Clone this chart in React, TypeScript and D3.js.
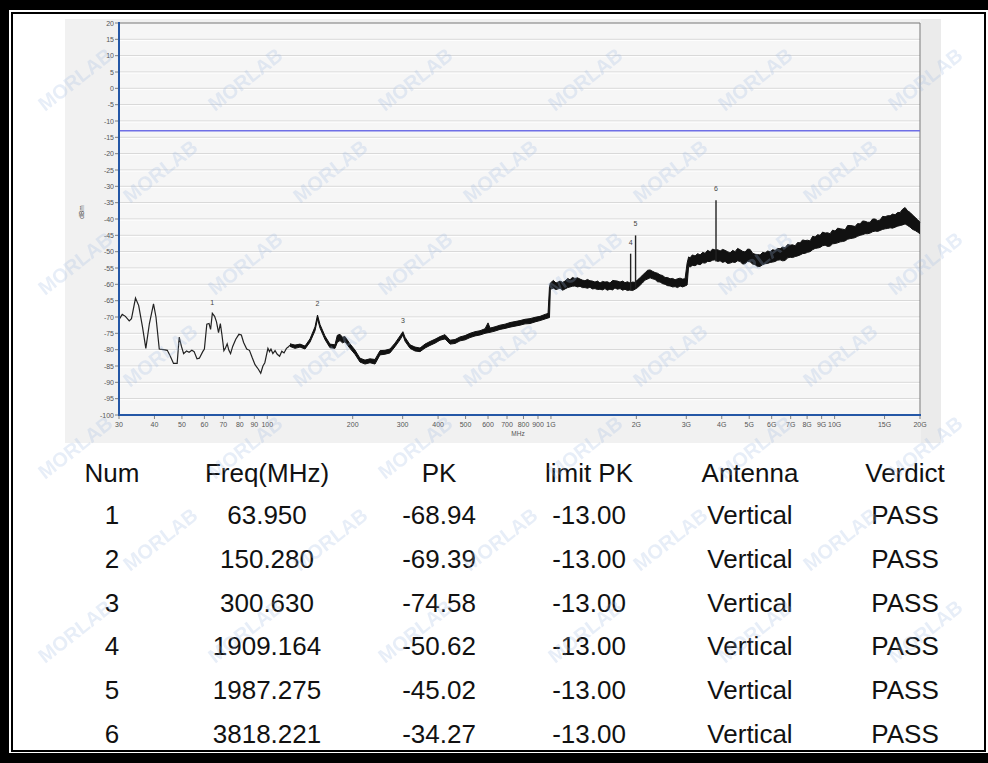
import React from 'react';
import * as d3 from 'd3';

const W = 988;
const H = 763;

// ---------- DATA ----------
const yTicks = [20, 15, 10, 5, 0, -5, -10, -15, -20, -25, -30, -35, -40, -45, -50, -55, -60, -65, -70, -75, -80, -85, -90, -95, -100];
const xTickValues = [30, 40, 50, 60, 70, 80, 90, 100, 200, 300, 400, 500, 600, 700, 800, 900, 1000, 2000, 3000, 4000, 5000, 6000, 7000, 8000, 9000, 10000, 15000, 20000];
const xTickLabels = ['30', '40', '50', '60', '70', '80', '90', '100', '200', '300', '400', '500', '600', '700', '800', '900', '1G', '2G', '3G', '4G', '5G', '6G', '7G', '8G', '9G', '10G', '15G', '20G'];

const limitLine = -13;

// low-frequency trace: [MHz, dBm]
const lowTrace: [number, number][] = [
  [30, -70.8], [30.8, -69.2], [31.6, -69.8], [32.6, -71.2], [33.2, -70.5], [34.3, -64.2], [35.2, -66.5], [36.3, -73],
  [37.3, -79.6], [38.4, -72], [39.7, -66.0], [40.5, -70], [41.6, -79.8], [43, -80], [44.4, -80.2], [45.5, -82],
  [46.7, -84.2], [48.1, -84.2], [48.9, -76.2], [49.8, -79], [50.7, -81.2], [51.9, -80.4], [53, -80.8], [54.2, -80.2],
  [55.2, -80.6], [56.5, -82.8], [57.6, -82.6], [59.2, -80.6], [60, -79.8], [61.2, -72.2], [62.3, -72.0], [63.1, -73.8],
  [64, -68.9], [65.2, -69.8], [66.2, -71.5], [67.3, -74.8], [68.3, -72.0], [69.2, -75.5], [70.3, -80.3], [71.2, -79.5],
  [72.2, -78.2], [73.2, -80.2], [74.2, -81.2], [75.5, -79], [77.4, -76.8], [79.4, -75.3], [81, -75.5], [82.5, -77.8],
  [84.6, -79.8], [86.5, -80.2], [88.5, -82.5], [90.5, -84.6], [93, -86], [94.8, -87.2], [96.5, -85], [98, -84],
  [99, -82.2], [100.5, -79.6], [101.8, -80.6], [103, -79.8], [104.6, -81.2], [106.5, -80.3], [108.4, -81.4], [110.5, -82.0],
  [112.5, -80.5], [114.5, -81.0], [116.8, -79.6], [118.5, -79.2], [120.2, -78.6],
];

// noisy trace envelope: [MHz, low dBm, high dBm]
const bandTrace: [number, number, number][] = [
  [120.2, -79.0, -78.2], [125.2, -79.6, -78.6], [130.4, -79.2, -78.3], [135.8, -79.8, -78.9], [141.4, -77.7, -76.7],
  [147.3, -74.2, -73.0], [150.3, -70.6, -69.4], [153.4, -73.4, -72.3], [159.7, -76.9, -75.8], [166.3, -79.4, -78.3],
  [173.2, -79.6, -78.5], [176.5, -77.8, -75.6], [180.4, -77.2, -75.3], [184, -77.9, -76.2], [187.9, -77.6, -76.0],
  [195.6, -79.6, -78.2], [203.7, -81.4, -80.1], [212.2, -83.8, -82.6], [221.0, -84.4, -83.2], [230.1, -84.0, -82.8],
  [239.7, -84.4, -83.0], [249.6, -81.6, -80.3], [259.9, -81.4, -80.2], [270.7, -81.0, -79.8], [281.9, -79.1, -78.0],
  [293.6, -77.0, -75.8], [300.6, -75.5, -74.5], [305.8, -77.4, -76.2], [318.5, -79.6, -78.5], [331.6, -80.4, -79.2],
  [345.4, -80.6, -79.5], [359.7, -79.5, -78.3], [374.6, -78.7, -77.5], [390.1, -78.0, -76.8], [406.3, -77.1, -76.0],
  [423.1, -76.7, -75.4], [440.7, -78.3, -77.1], [458.9, -78.1, -76.9], [478.0, -77.3, -76.1], [497.7, -77.0, -75.7],
  [518.3, -76.3, -75.0], [539.8, -75.8, -74.5], [562.2, -75.5, -74.2], [585.5, -75.0, -73.6], [600.0, -74.8, -71.8],
  [609.8, -74.7, -73.4], [635.0, -74.3, -73.0], [661.3, -73.8, -72.5], [688.7, -73.5, -72.2], [717.3, -73.1, -71.7],
  [747.0, -72.8, -71.4], [778.0, -72.5, -71.1], [810.2, -72.1, -70.7], [843.7, -72.0, -70.5], [878.7, -71.5, -70.1],
  [915.1, -71.1, -69.8], [953.0, -70.6, -69.2], [976.5, -70.3, -68.9], [988, -70.2, -60.8], [995, -61.5, -59.6],
  [1020, -61.2, -58.8], [1042, -61.6, -59.6], [1076, -61.2, -59.0], [1100, -61.8, -59.4], [1121, -61.4, -59.0],
  [1145, -61.0, -58.2], [1167, -60.8, -58.6], [1190, -60.6, -57.9], [1215, -60.5, -58.2], [1240, -60.8, -58.0],
  [1266, -60.6, -58.4], [1290, -61.0, -58.7], [1318, -61.0, -58.9], [1345, -61.2, -58.5], [1372, -60.9, -58.9],
  [1400, -61.4, -59.0], [1429, -61.3, -59.3], [1460, -61.6, -59.0], [1489, -61.5, -59.6], [1520, -61.7, -59.1],
  [1550, -61.3, -59.3], [1580, -61.8, -59.2], [1614, -61.5, -59.6], [1650, -61.7, -58.8], [1681, -61.1, -58.9],
  [1715, -61.5, -59.0], [1752, -61.3, -59.3], [1790, -61.8, -59.0], [1824, -61.5, -59.5], [1860, -61.9, -59.2],
  [1900, -61.7, -59.6], [1940, -61.9, -59.3], [1978, -61.5, -59.4], [2020, -61.0, -58.6], [2061, -60.3, -58.0],
  [2100, -59.6, -57.2], [2146, -58.7, -56.5], [2190, -58.4, -55.7], [2236, -58.0, -55.6], [2280, -58.3, -56.0],
  [2328, -58.5, -56.4], [2375, -59.2, -56.6], [2425, -59.3, -57.1], [2475, -59.8, -57.3], [2525, -60.0, -57.9],
  [2575, -60.4, -57.9], [2630, -60.5, -58.3], [2685, -60.8, -58.2], [2739, -60.7, -58.6], [2795, -61.0, -58.3],
  [2852, -60.5, -58.1], [2910, -60.8, -58.4], [2970, -60.5, -58.3], [3020, -60.2, -53.5], [3057, -54.5, -51.6],
  [3094, -54.7, -51.9], [3150, -54.2, -51.0], [3222, -54.3, -51.3], [3290, -53.8, -50.6], [3356, -54.0, -51.0],
  [3425, -53.4, -50.2], [3495, -53.5, -50.5], [3565, -53.0, -49.6], [3639, -53.0, -50.0], [3715, -52.6, -49.2],
  [3790, -52.5, -49.5], [3870, -53.0, -49.4], [3947, -52.8, -49.8], [4030, -53.3, -49.3], [4110, -53.0, -49.6],
  [4195, -53.6, -50.0], [4281, -53.5, -50.4], [4370, -53.2, -49.6], [4458, -53.3, -50.0], [4550, -52.8, -49.0],
  [4644, -53.0, -49.4], [4740, -53.8, -49.9], [4836, -53.7, -50.1], [4935, -53.0, -49.2], [5036, -53.1, -49.3],
  [5140, -53.8, -50.5], [5245, -54.0, -50.8], [5350, -54.6, -50.9], [5462, -54.5, -51.0], [5575, -54.0, -50.2],
  [5688, -53.7, -50.4], [5805, -53.6, -49.8], [5924, -53.3, -50.0], [6045, -53.2, -49.4], [6169, -53.0, -49.6],
  [6295, -52.6, -49.0], [6425, -52.5, -49.1], [6555, -52.8, -48.6], [6691, -52.7, -48.8], [6830, -51.9, -47.8],
  [6968, -51.7, -48.0], [7110, -51.8, -47.9], [7257, -51.5, -48.2], [7405, -51.3, -47.2], [7557, -51.0, -47.3],
  [7710, -50.6, -46.4], [7870, -50.5, -46.6], [8030, -50.2, -46.5], [8196, -50.0, -46.7], [8365, -49.4, -45.3],
  [8535, -49.0, -45.5], [8710, -48.9, -44.8], [8889, -48.7, -45.0], [9070, -48.2, -44.0], [9257, -48.0, -44.3],
  [9445, -48.4, -44.2], [9640, -48.3, -44.5], [9840, -47.6, -43.4], [10040, -47.5, -43.7], [10250, -47.3, -42.8],
  [10457, -47.0, -43.0], [10670, -46.9, -43.1], [10890, -46.7, -43.3], [11110, -46.2, -42.0], [11340, -46.0, -42.0],
  [11570, -45.9, -42.1], [11810, -45.7, -42.3], [12050, -45.3, -41.4], [12300, -45.0, -41.5], [12550, -44.8, -40.6],
  [12810, -44.5, -40.7], [13070, -44.5, -41.0], [13340, -44.3, -41.0], [13610, -43.9, -40.0], [13890, -43.7, -40.0],
  [14180, -43.8, -40.5], [14469, -43.5, -40.3], [14760, -43.2, -39.2], [15070, -43.0, -39.3], [15370, -42.9, -39.0],
  [15690, -42.7, -39.0], [16010, -42.8, -38.5], [16340, -42.5, -38.7], [16680, -42.2, -38.0], [17020, -42.0, -38.0],
  [17370, -41.8, -37.0], [17720, -41.5, -36.5], [18090, -42.0, -37.5], [18460, -42.5, -38.0], [18840, -43.2, -38.8],
  [19220, -43.5, -39.5], [19610, -44.0, -40.2], [20000, -44.5, -41.0],
];

const tableHeaders = ['Num', 'Freq(MHz)', 'PK', 'limit PK', 'Antenna', 'Verdict'];
const markerNum = ['1', '2', '3', '4', '5', '6'];
const markerFreq = [63.95, 150.28, 300.63, 1909.164, 1987.275, 3818.221];
const markerFreqText = ['63.950', '150.280', '300.630', '1909.164', '1987.275', '3818.221'];
const markerPK = [-68.94, -69.39, -74.58, -50.62, -45.02, -34.27];
const markerPKText = ['-68.94', '-69.39', '-74.58', '-50.62', '-45.02', '-34.27'];
const markerLimitText = ['-13.00', '-13.00', '-13.00', '-13.00', '-13.00', '-13.00'];
const markerAntenna = ['Vertical', 'Vertical', 'Vertical', 'Vertical', 'Vertical', 'Vertical'];
const markerVerdict = ['PASS', 'PASS', 'PASS', 'PASS', 'PASS', 'PASS'];
const spikeMarkers = [3, 4, 5]; // indices of markers drawn as narrow spikes

// ---------- LAYOUT ----------
const plot = { left: 119, right: 920, top: 23, bottom: 415 };
const colX = [112, 267, 439, 589, 750, 905];
const headerY = 472;
const rowY0 = 514;
const rowStep = 43.8;
const tableFont = '"Liberation Sans", Arial, Helvetica, sans-serif';

export default function App() {
  const x = d3.scaleLog().domain([30, 20000]).range([plot.left, plot.right]);
  const y = d3.scaleLinear().domain([-100, 20]).range([plot.bottom, plot.top]);

  const lowLine = d3.line<[number, number]>().x(d => x(d[0])).y(d => y(d[1]))(lowTrace) || '';
  const bandArea = d3.area<[number, number, number]>()
    .x(d => x(d[0])).y0(d => y(d[1])).y1(d => y(d[2]))(bandTrace) || '';
  const bandLo = d3.line<[number, number, number]>().x(d => x(d[0])).y(d => y(d[1]))(bandTrace) || '';
  const bandHi = d3.line<[number, number, number]>().x(d => x(d[0])).y(d => y(d[2]))(bandTrace) || '';
  const bis = d3.bisector((d: [number, number, number]) => d[0]).left;

  const gridVals = yTicks.filter(v => v > -100 && v < 20);

  // decorative watermark tiling, only fully visible copies
  const watermarks: { x: number; y: number }[] = [];
  for (let r = 0; r < 10; r++) {
    for (let c = 0; c < 8; c++) {
      const wx = -40 + c * 170 + (r % 2) * 85;
      const wy = 20 + r * 92;
      if (wx >= 16 && wx + 70 <= 982 && wy - 52 >= 16 && wy + 4 <= 748) watermarks.push({ x: wx, y: wy });
    }
  }

  return (
    <svg width={W} height={H} style={{ position: 'absolute', left: 0, top: 0, display: 'block' }}
      xmlns="http://www.w3.org/2000/svg">
      {/* frame */}
      <rect x={0} y={0} width={W} height={H} fill="#000" />
      <rect x={9} y={10} width={W - 9} height={743} fill="#fff" />
      <rect x={12} y={13} width={973} height={738} fill="none" stroke="#000" strokeWidth={2} />

      {/* chart panel */}
      <rect x={65} y={19} width={876} height={424} fill="#f1f1f1" />
      <rect x={921} y={19} width={20} height={424} fill="#ebebeb" />
      <rect x={plot.left} y={plot.top} width={plot.right - plot.left} height={plot.bottom - plot.top} fill="#f6f6f6" />

      {/* grid */}
      {gridVals.map(v => (
        <g key={v}>
          <line x1={plot.left} x2={plot.right} y1={y(v)} y2={y(v)} stroke="#d4d4d4" strokeWidth={1} />
          <line x1={plot.left} x2={plot.right} y1={y(v) + 1} y2={y(v) + 1} stroke="#ffffff" strokeWidth={1} />
        </g>
      ))}

      {/* frame top/right */}
      <line x1={plot.left} x2={plot.right} y1={plot.top} y2={plot.top} stroke="#777" strokeWidth={1} />
      <line x1={plot.right} x2={plot.right} y1={plot.top} y2={plot.bottom} stroke="#777" strokeWidth={1} />

      {/* limit line */}
      <line x1={plot.left} x2={plot.right} y1={y(limitLine)} y2={y(limitLine)} stroke="#6f6fe6" strokeWidth={1.6} />

      {/* trace */}
      <path d={lowLine} fill="none" stroke="#222" strokeWidth={1.2} />
      <path d={bandArea} fill="#111" stroke="none" />
      <path d={bandLo} fill="none" stroke="#111" strokeWidth={1} />
      <path d={bandHi} fill="none" stroke="#111" strokeWidth={1} />
      {spikeMarkers.map(i => {
        const idx = Math.min(bis(bandTrace, markerFreq[i]), bandTrace.length - 1);
        const base = bandTrace[idx][1];
        return (
          <line key={i} x1={x(markerFreq[i])} x2={x(markerFreq[i])} y1={y(base)} y2={y(markerPK[i])}
            stroke="#222" strokeWidth={1.4} />
        );
      })}

      {/* marker labels */}
      {markerNum.map((m, i) => (
        <text key={m} x={x(markerFreq[i])} y={y(markerPK[i]) - 9} fontSize={7} fill="#444"
          textAnchor="middle" fontFamily={tableFont}>{m}</text>
      ))}

      {/* axes */}
      <line x1={plot.left} x2={plot.left} y1={plot.top - 1} y2={plot.bottom + 1} stroke="#2457a6" strokeWidth={2} />
      <line x1={plot.left - 1} x2={plot.right + 1} y1={plot.bottom} y2={plot.bottom} stroke="#2457a6" strokeWidth={2} />
      {yTicks.map(v => (
        <g key={v}>
          <line x1={plot.left - 4} x2={plot.left - 1} y1={y(v)} y2={y(v)} stroke="#666" strokeWidth={0.8} />
          <text x={plot.left - 5} y={y(v) + 2.5} fontSize={7} fill="#555" textAnchor="end" fontFamily={tableFont}>{v}</text>
        </g>
      ))}
      {xTickValues.map((v, i) => (
        <g key={v}>
          <line x1={x(v)} x2={x(v)} y1={plot.bottom + 1} y2={plot.bottom + 4} stroke="#666" strokeWidth={0.8} />
          <text x={x(v)} y={plot.bottom + 12} fontSize={7} fill="#555" textAnchor="middle" fontFamily={tableFont}>{xTickLabels[i]}</text>
        </g>
      ))}
      <text x={518} y={436} fontSize={6.5} fill="#555" textAnchor="middle" fontFamily={tableFont}>MHz</text>
      <text transform="translate(84,212) rotate(-90)" fontSize={6.5} fill="#555" textAnchor="middle" fontFamily={tableFont}>dBm</text>

      {/* table */}
      {tableHeaders.map((h, c) => (
        <text key={h} x={colX[c]} y={headerY + 10} fontSize={26} fill="#111" textAnchor="middle" fontFamily={tableFont}>{h}</text>
      ))}
      {markerNum.map((m, r) => {
        const cy = rowY0 + r * rowStep + 10;
        const cells = [m, markerFreqText[r], markerPKText[r], markerLimitText[r], markerAntenna[r], markerVerdict[r]];
        return (
          <g key={m}>
            {cells.map((t, c) => (
              <text key={c} x={colX[c]} y={cy} fontSize={26} fill="#111" textAnchor="middle" fontFamily={tableFont}>{t}</text>
            ))}
          </g>
        );
      })}

      {/* watermarks */}
      <g opacity={0.25}>
        {watermarks.map((w, i) => (
          <text key={i} transform={`translate(${w.x},${w.y}) rotate(-38)`} fontSize={20} fontWeight="bold"
            fill="#9fb8e0" fontFamily={tableFont}>MORLAB</text>
        ))}
      </g>
    </svg>
  );
}
